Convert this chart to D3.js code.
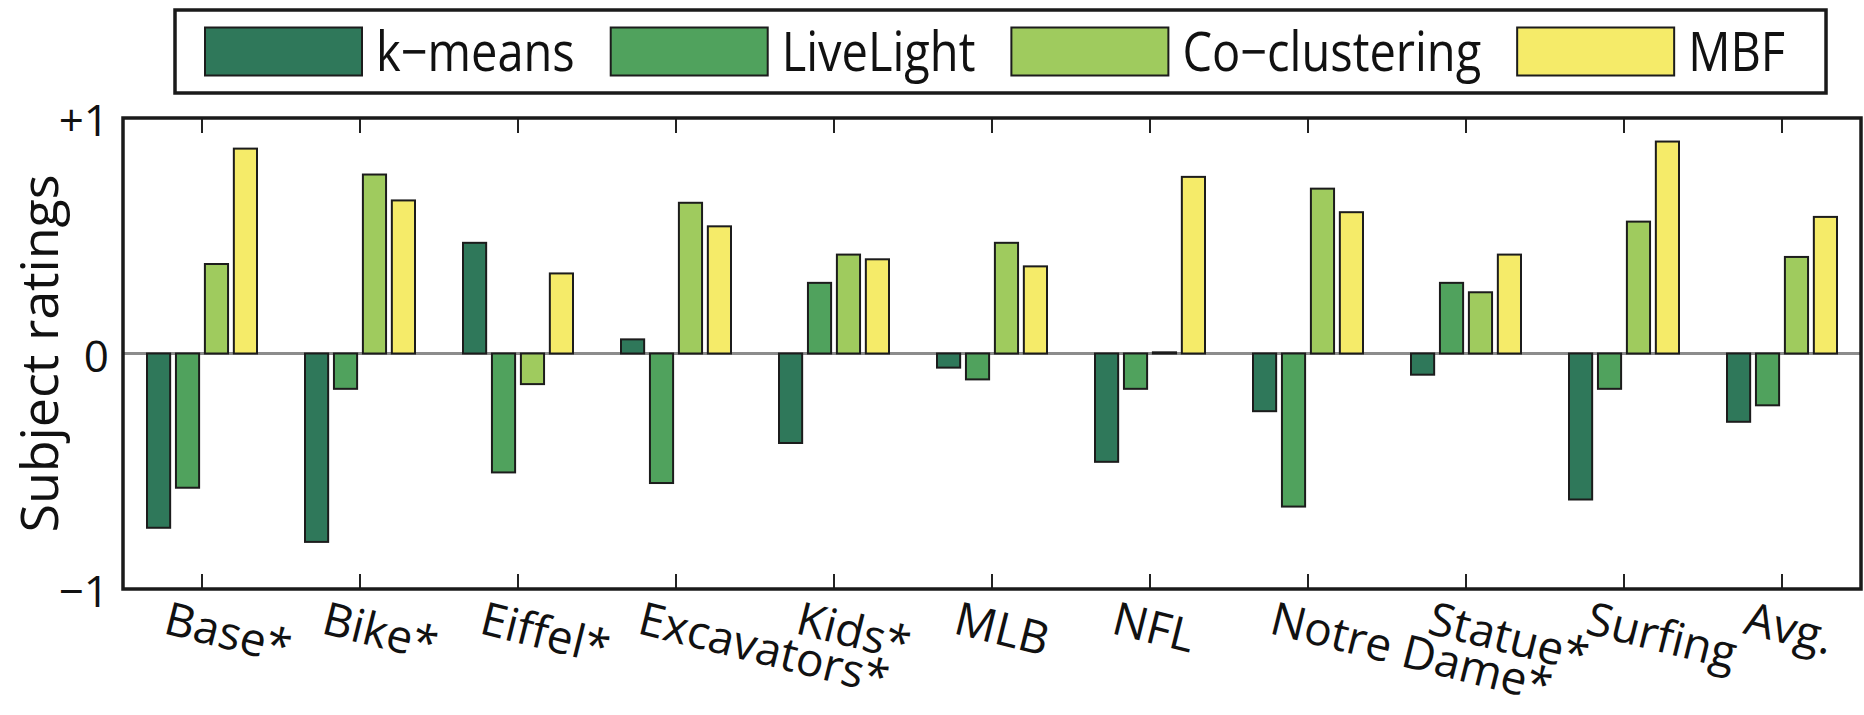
<!DOCTYPE html>
<html>
<head>
<meta charset="utf-8">
<script src="https://cdn.jsdelivr.net/npm/d3@7"></script>
<style>
  body { margin: 0; background: #fff; }
  svg { display: block; font-family: "Open Sans", sans-serif; }
</style>
</head>
<body>
<div id="chart"></div>
<script>
// data
const categories = ["Base*", "Bike*", "Eiffel*", "Excavators*", "Kids*", "MLB", "NFL",
  "Notre Dame*", "Statue*", "Surfing", "Avg."];
const seriesNames = ["k\u2212means", "LiveLight", "Co\u2212clustering", "MBF"];
const kmeans = [-0.74, -0.80, 0.47, 0.06, -0.38, -0.06, -0.46, -0.245, -0.09, -0.62, -0.29];
const liveLight = [-0.57, -0.15, -0.505, -0.55, 0.30, -0.11, -0.15, -0.65, 0.30, -0.15, -0.22];
const coClustering = [0.38, 0.76, -0.13, 0.64, 0.42, 0.47, 0.005, 0.70, 0.26, 0.56, 0.41];
const mbf = [0.87, 0.65, 0.34, 0.54, 0.40, 0.37, 0.75, 0.60, 0.42, 0.90, 0.58];
const yTicks = [-1, 0, 1];
const yTickLabels = ["\u22121", "0", "+1"];

const COLORS = ["#2f785a", "#50a25d", "#9fcb5e", "#f5eb69"];
const FONT = '"Open Sans", sans-serif';

const width = 1864;
const height = 715;
const plot = { left: 123, right: 1861, top: 118, bottom: 589 };

const svg = d3.select("#chart").append("svg")
  .attr("width", width)
  .attr("height", height);

const x0 = d3.scaleBand()
  .domain(categories)
  .range([plot.left, plot.right])
  .padding(0);

const x1 = d3.scaleBand()
  .domain(seriesNames)
  .range([-55, 55])
  .paddingInner(0.2);

const y = d3.scaleLinear()
  .domain([-1, 1])
  .range([plot.bottom, plot.top]);

const allSeries = [kmeans, liveLight, coClustering, mbf];
const rows = [];
categories.forEach((c, i) => {
  seriesNames.forEach((s, j) => {
    rows.push({ cat: c, series: s, idx: j, value: allSeries[j][i] });
  });
});

// zero line under the bars
svg.append("line")
  .attr("x1", plot.left).attr("x2", plot.right)
  .attr("y1", y(0)).attr("y2", y(0))
  .style("stroke", "#8c8c8c")
  .style("stroke-width", 3);

// bars
svg.append("g").selectAll("rect")
  .data(rows)
  .enter()
  .append("rect")
  .attr("x", (d) => x0(d.cat) + x0.bandwidth() / 2 + x1(d.series))
  .attr("width", x1.bandwidth())
  .attr("y", (d) => Math.min(y(d.value), y(0)))
  .attr("height", (d) => Math.max(Math.abs(y(d.value) - y(0)), 0.5))
  .style("fill", (d) => COLORS[d.idx])
  .style("stroke", "#1c1c1c")
  .style("stroke-width", 2);

// bottom axis with ticks pointing inward
const xAxisBottom = svg.append("g")
  .attr("transform", `translate(0,${plot.bottom})`)
  .call(d3.axisBottom(x0).tickSizeInner(-15).tickSizeOuter(0))
  .attr("font-family", FONT);

xAxisBottom.select(".domain").remove();
xAxisBottom.selectAll(".tick line")
  .style("stroke", "#222")
  .style("stroke-width", 2);
xAxisBottom.selectAll(".tick text")
  .attr("y", 0)
  .attr("dy", 0)
  .attr("text-anchor", "start")
  .attr("transform", "translate(-40,44) rotate(14)")
  .style("font-size", "46px")
  .style("fill", "#111");

// top axis, ticks only
const xAxisTop = svg.append("g")
  .attr("transform", `translate(0,${plot.top})`)
  .call(d3.axisTop(x0).tickSizeInner(-15).tickSizeOuter(0).tickFormat(""));
xAxisTop.select(".domain").remove();
xAxisTop.selectAll(".tick line")
  .style("stroke", "#222")
  .style("stroke-width", 2);

// y axis labels only
const yAxis = svg.append("g")
  .attr("transform", `translate(${plot.left},0)`)
  .call(d3.axisLeft(y)
    .tickValues(yTicks)
    .tickFormat((d, i) => yTickLabels[i])
    .tickSize(0)
    .tickPadding(14))
  .attr("font-family", FONT);
yAxis.select(".domain").remove();
yAxis.selectAll(".tick text")
  .attr("dy", "0.4em")
  .style("font-size", "44px")
  .style("fill", "#111");

// axes box
svg.append("rect")
  .attr("x", plot.left)
  .attr("y", plot.top)
  .attr("width", plot.right - plot.left)
  .attr("height", plot.bottom - plot.top)
  .style("fill", "none")
  .style("stroke", "#1a1a1a")
  .style("stroke-width", 3.5);

// y label
svg.append("text")
  .attr("transform", `translate(58,${y(0)}) rotate(-90)`)
  .attr("text-anchor", "middle")
  .style("font-size", "52px")
  .style("fill", "#111")
  .text("Subject ratings");

// legend
const legendBox = { x: 175, y: 10, h: 83 };
const patchW = 157;
const patchH = 48;
const textScale = 0.87;

const legend = svg.append("g");
const legendFrame = legend.append("rect")
  .attr("x", legendBox.x)
  .attr("y", legendBox.y)
  .attr("height", legendBox.h)
  .style("fill", "#fff")
  .style("stroke", "#1a1a1a")
  .style("stroke-width", 3.5);

let lx = legendBox.x + 30;
seriesNames.forEach((name, i) => {
  legend.append("rect")
    .attr("x", lx)
    .attr("y", legendBox.y + (legendBox.h - patchH) / 2)
    .attr("width", patchW)
    .attr("height", patchH)
    .style("fill", COLORS[i])
    .style("stroke", "#1c1c1c")
    .style("stroke-width", 2);
  lx += patchW + 14;
  const t = legend.append("text")
    .attr("transform", `translate(${lx},${legendBox.y + legendBox.h / 2}) scale(${textScale},1)`)
    .attr("dy", "0.36em")
    .style("font-size", "54px")
    .style("fill", "#111")
    .text(name);
  lx += t.node().getComputedTextLength() * textScale;
  if (i < seriesNames.length - 1) lx += 36;
});
legendFrame.attr("width", lx + 41 - legendBox.x);
</script>
</body>
</html>
